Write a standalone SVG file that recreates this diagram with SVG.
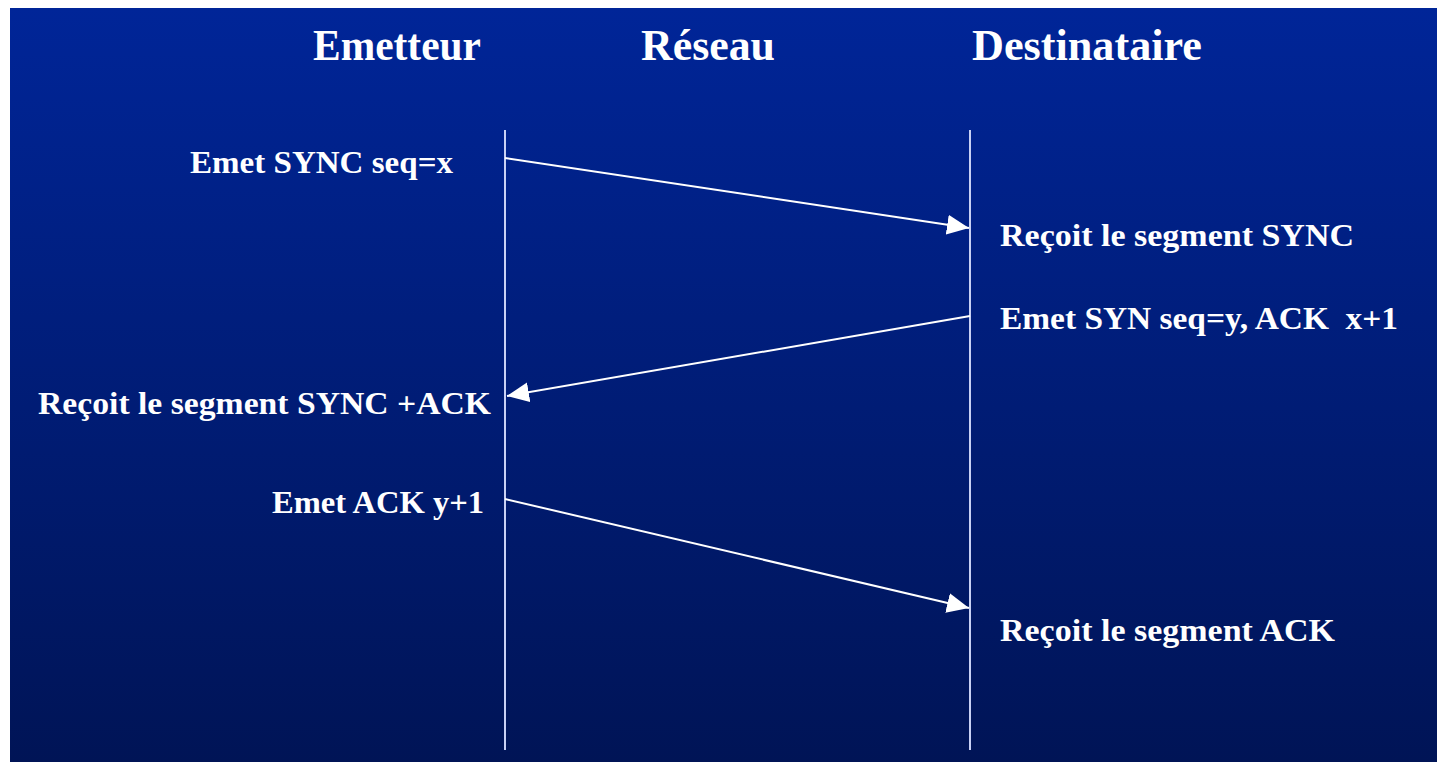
<svg xmlns="http://www.w3.org/2000/svg" width="1437" height="762" viewBox="0 0 1437 762">
<defs>
<linearGradient id="bg" x1="0" y1="0" x2="0" y2="1">
<stop offset="0" stop-color="#002598"/>
<stop offset="1" stop-color="#001456"/>
</linearGradient>
<marker id="ah" markerUnits="userSpaceOnUse" markerWidth="24" markerHeight="20" refX="22" refY="10" orient="auto">
<path d="M0,0 L22,10 L0,20 Z" fill="#ffffff"/>
</marker>
<style>
.t{font-family:"Liberation Serif","Times New Roman",serif;font-weight:bold;fill:#ffffff;}
.h{font-size:45px;}
.b{font-size:32px;}
.life{stroke:#c8d0f4;stroke-width:2;fill:none;}
.msg{stroke:#ffffff;stroke-width:2;fill:none;marker-end:url(#ah);}
</style>
</defs>
<rect x="0" y="0" width="1437" height="762" fill="#ffffff"/>
<rect x="10" y="8" width="1427" height="754" fill="url(#bg)"/>
<g id="emetteur">
<text class="t h" x="313" y="60" textLength="168" lengthAdjust="spacingAndGlyphs">Emetteur</text>
<line class="life" x1="505" y1="130" x2="505" y2="750"/>
</g>
<g id="reseau">
<text class="t h" x="641" y="60" textLength="134" lengthAdjust="spacingAndGlyphs">Réseau</text>
</g>
<g id="destinataire">
<text class="t h" x="972" y="60" textLength="230" lengthAdjust="spacingAndGlyphs">Destinataire</text>
<line class="life" x1="970" y1="130" x2="970" y2="750"/>
</g>
<g id="labels">
<text class="t b" x="190" y="173" textLength="263" lengthAdjust="spacingAndGlyphs">Emet SYNC seq=x</text>
<text class="t b" x="1000" y="246" textLength="354" lengthAdjust="spacingAndGlyphs">Reçoit le segment SYNC</text>
<text class="t b" x="1000" y="329" textLength="398" lengthAdjust="spacingAndGlyphs" xml:space="preserve">Emet SYN seq=y, ACK  x+1</text>
<text class="t b" x="38" y="414" textLength="453" lengthAdjust="spacingAndGlyphs">Reçoit le segment SYNC +ACK</text>
<text class="t b" x="272" y="513" textLength="212" lengthAdjust="spacingAndGlyphs">Emet ACK y+1</text>
<text class="t b" x="1000" y="641" textLength="335" lengthAdjust="spacingAndGlyphs">Reçoit le segment ACK</text>
</g>
<g id="connectors">
<line class="msg" x1="505" y1="158" x2="969" y2="228"/>
<line class="msg" x1="970" y1="316" x2="507" y2="396"/>
<line class="msg" x1="505" y1="499" x2="969" y2="608"/>
</g>
</svg>
